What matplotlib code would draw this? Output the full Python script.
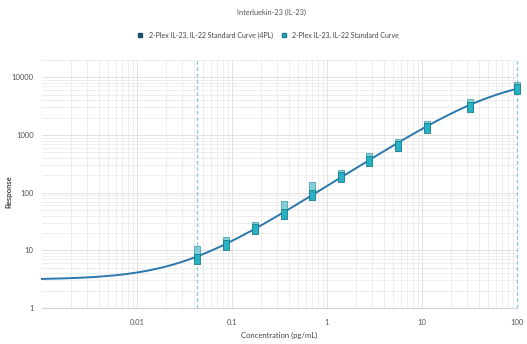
import numpy as np
import matplotlib
matplotlib.use("Agg")
import matplotlib.pyplot as plt
from matplotlib.lines import Line2D

title = "Interluekin-23 (IL-23)"
series_fit = "2-Plex IL-23, IL-22 Standard Curve (4PL)"
series_pts = "2-Plex IL-23, IL-22 Standard Curve"
x_label = "Concentration (pg/mL)"
y_label = "Response"

conc = [0.043, 0.0875, 0.175, 0.35, 0.7, 1.4, 2.8, 5.6, 11.2, 32, 100]
rep1 = [7.1, 12.5, 23, 42, 91, 186, 360, 640, 1300, 3000, 6300]
rep2 = [9.7, 14, 25, 58, 127, 200, 400, 700, 1450, 3400, 6700]

# 4PL fit parameters (bottom, top, inflection, slope)
fit_a, fit_d, fit_c, fit_b = 3.1, 10300.0, 65.0, 1.05
lloq_uloq = [0.043, 100]

xticks = [0.01, 0.1, 1, 10, 100]
xticklabels = ["0.01", "0.1", "1", "10", "100"]
yticks = [1, 10, 100, 1000, 10000]
yticklabels = ["1", "10", "100", "1000", "10000"]

plt.rcParams['font.family'] = ['Lato', 'DejaVu Sans']

fig = plt.figure(figsize=(5.27, 3.44), dpi=100)
ax = fig.add_axes([0.0797, 0.1047, 0.9013, 0.7213])
ax.set_xscale('log')
ax.set_yscale('log')
ax.set_xlim(0.001, 100)
ax.set_ylim(1, 20000)

ax.grid(True, which='major', color='#dcdcdc', linewidth=0.6)
ax.grid(True, which='minor', color='#e8e8e8', linewidth=0.5)
ax.set_axisbelow(True)

for v in lloq_uloq:
    ax.axvline(v, color='#8cc3db', linestyle=(0, (3, 2)), linewidth=0.9, zorder=1, clip_on=False)

xs = np.logspace(-3, 2, 400)
ys = fit_d + (fit_a - fit_d) / (1 + (xs / fit_c) ** fit_b)
ax.plot(xs, ys, color='#2a77ad', linewidth=1.4, zorder=3, clip_on=False)

rect = [(-0.65, -1), (0.65, -1), (0.65, 1), (-0.65, 1), (-0.65, -1)]
ax.plot(conc, rep2, linestyle='none', marker=rect, markersize=7,
        markerfacecolor='#6fc9d4', markeredgecolor='#3a9aa8', markeredgewidth=0.6,
        alpha=0.85, zorder=4, clip_on=False)
ax.plot(conc, rep1, linestyle='none', marker=rect, markersize=7,
        markerfacecolor='#27b2c4', markeredgecolor='#1a7d8c', markeredgewidth=0.6,
        zorder=5, clip_on=False)

ax.set_xticks(xticks)
ax.set_xticklabels(xticklabels)
ax.set_yticks(yticks)
ax.set_yticklabels(yticklabels)
ax.tick_params(axis='both', which='both', length=0, labelsize=5.5, colors='#555555', pad=6)
ax.tick_params(axis='x', pad=8)
for s in ['top', 'right', 'left']:
    ax.spines[s].set_visible(False)
ax.spines['bottom'].set_color('#d0d0d0')

ax.set_xlabel(x_label, fontsize=5.5, color='#444444', labelpad=4)
ax.set_ylabel(y_label, fontsize=5.5, color='#444444', fontweight='bold')
ax.yaxis.set_label_coords(-0.062, 0.47)

fig.text(0.516, 0.965, title, ha='center', va='center', fontsize=5.3, color='#555555')

handles = [
    Line2D([], [], linestyle='none', marker='s', markersize=3.5,
           markerfacecolor='#1e4f6e', markeredgecolor='#1e4f6e'),
    Line2D([], [], linestyle='none', marker='s', markersize=3.5,
           markerfacecolor='#27b2c4', markeredgecolor='#1a7d8c'),
]
fig.legend(handles, [series_fit, series_pts], loc='center', bbox_to_anchor=(0.505, 0.898),
           ncol=2, frameon=False, fontsize=5.0, handletextpad=0.2, columnspacing=0.6,
           labelcolor='#444444')

fig.savefig('out.png', dpi=100)
